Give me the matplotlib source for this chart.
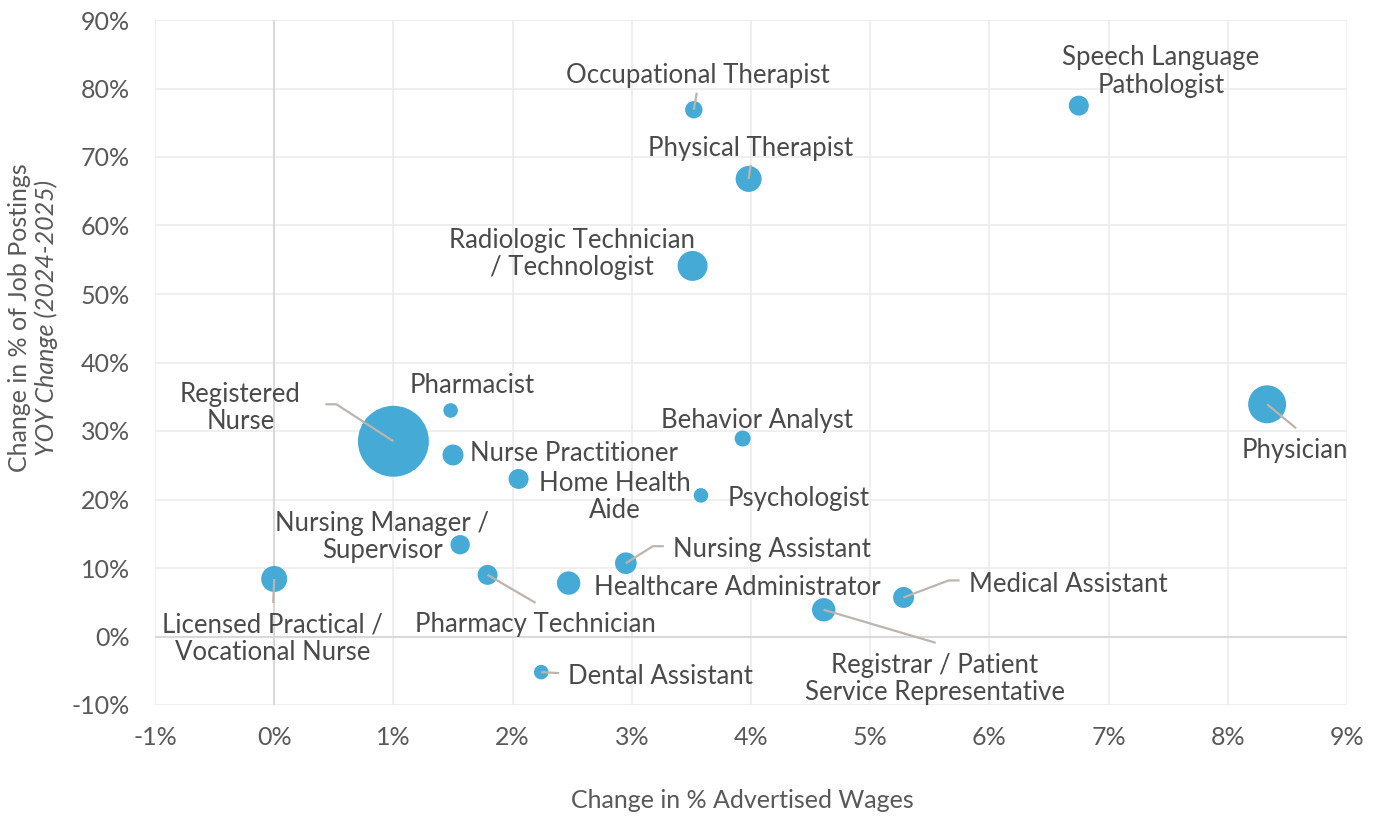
import matplotlib
matplotlib.use("Agg")
import matplotlib.pyplot as plt
from matplotlib.ticker import FuncFormatter
import numpy as np

plt.rcParams['font.family'] = ['Lato', 'DejaVu Sans']

# ---------------- data ----------------
occupations = [
    "Occupational Therapist", "Speech Language\nPathologist", "Physical Therapist",
    "Radiologic Technician\n/ Technologist", "Physician", "Registered\nNurse",
    "Pharmacist", "Nurse Practitioner", "Behavior Analyst", "Home Health\nAide",
    "Psychologist", "Nursing Manager /\nSupervisor", "Licensed Practical /\nVocational Nurse",
    "Pharmacy Technician", "Healthcare Administrator", "Nursing Assistant",
    "Dental Assistant", "Medical Assistant", "Registrar / Patient\nService Representative",
]
wage_change = [3.52, 6.75, 3.98, 3.51, 8.33, 1.00, 1.48, 1.50, 3.93, 2.05,
               3.58, 1.56, 0.00, 1.79, 2.47, 2.95, 2.24, 5.28, 4.61]
posting_change = [76.9, 77.5, 66.8, 54.1, 33.9, 28.5, 33.0, 26.5, 28.9, 23.0,
                  20.6, 13.4, 8.4, 9.0, 7.8, 10.7, -5.2, 5.7, 3.9]
bubble_value = [76, 100, 169, 225, 361, 1260, 53, 110, 64, 100,
                53, 94, 169, 100, 137, 117, 53, 110, 137]

x_ticks = list(range(-1, 10))
y_ticks = list(range(-10, 100, 10))

# ---------------- layout (pixel offsets of labels / leaders) ----------------
label_layout = {
    "Occupational Therapist": ((4, 34), 'center', [(0, 0), (3, 17)]),
    "Speech Language\nPathologist": ((82, 34), 'center', None),
    "Physical Therapist": ((2, 30), 'center', [(0, 0), (2, 14)]),
    "Radiologic Technician\n/ Technologist": ((-121, 12), 'center', None),
    "Physician": ((28, -46), 'center', [(0, 0), (29, -24)]),
    "Registered\nNurse": ((-153, 33), 'center', [(0, 0), (-57, 37), (-68, 37)]),
    "Pharmacist": ((22, 25), 'center', None),
    "Nurse Practitioner": ((17, 1), 'left', None),
    "Behavior Analyst": ((14, 18), 'center', None),
    "Home Health\nAide": ((96, -18), 'center', None),
    "Psychologist": ((27, -3), 'left', None),
    "Nursing Manager /\nSupervisor": ((-78, 8), 'center', None),
    "Licensed Practical /\nVocational Nurse": ((-2, -60), 'center', [(0, 0), (-1, -24)]),
    "Pharmacy Technician": ((48, -50), 'center', [(0, 0), (48, -28)]),
    "Healthcare Administrator": ((25, -4), 'left', None),
    "Nursing Assistant": ((47, 14), 'left', [(0, 0), (27, 17), (38, 17)]),
    "Dental Assistant": ((27, -4), 'left', [(0, 0), (18, -1)]),
    "Medical Assistant": ((65, 13), 'left', [(0, 0), (45, 17), (56, 17)]),
    "Registrar / Patient\nService Representative": ((111, -69), 'center', [(0, 0), (112, -33)]),
}

W, H, DPI = 1380, 817, 100
fig = plt.figure(figsize=(W / DPI, H / DPI), dpi=DPI)
ax = fig.add_axes([155 / W, 1 - 705 / H, (1347 - 155) / W, (705 - 20) / H])

ax.set_xlim(-1, 9)
ax.set_ylim(-10, 90)
ax.set_xticks(x_ticks)
ax.set_yticks(y_ticks)
ax.xaxis.set_major_formatter(FuncFormatter(lambda v, p: f"{v:.0f}%"))
ax.yaxis.set_major_formatter(FuncFormatter(lambda v, p: f"{v:.0f}%"))
ax.grid(True, color='#ececec', linewidth=1.2, zorder=0)
ax.set_axisbelow(True)
ax.axvline(0, color='#d9d9d9', linewidth=1.5, zorder=1)
ax.axhline(0, color='#d9d9d9', linewidth=1.5, zorder=1)
for s in ax.spines.values():
    s.set_visible(False)
ax.tick_params(length=0, labelsize=18, labelcolor='#595959')
ax.tick_params(axis='x', pad=15)
ax.tick_params(axis='y', pad=18)

sizes = [2.07 * v for v in bubble_value]
ax.scatter(wage_change, posting_change, s=sizes, color='#3fa8d5', alpha=0.97,
           edgecolors='none', zorder=3)

fig.canvas.draw()
for name, x, y in zip(occupations, wage_change, posting_change):
    (dx, dy), ha, leader = label_layout[name]
    if leader:
        bx, by = ax.transData.transform((x, y))
        xs = [bx + lx for lx, ly in leader]
        ys = [by + ly for lx, ly in leader]
        ax.plot(xs, ys, transform=None, color='#bdb4ad', linewidth=1.6, zorder=4,
                solid_capstyle='butt')
    ax.annotate(name, (x, y), xytext=(dx, dy), textcoords='offset pixels',
                ha=ha, va='center', multialignment='center', fontsize=18.5,
                color='#4a4a4a', linespacing=1.12, zorder=5)

fig.text(742 / W, 1 - 801 / H, "Change in % Advertised Wages", ha='center', va='center',
         fontsize=18, color='#595959')
fig.text(20 / W, 1 - 318 / H, "Change in % of Job Postings", rotation=90, ha='center',
         va='center', fontsize=18, color='#595959')
fig.text(46 / W, 1 - 318 / H, "YOY Change (2024-2025)", rotation=90, ha='center',
         va='center', fontsize=18, color='#595959', style='italic')

fig.savefig("out.png", dpi=DPI)
